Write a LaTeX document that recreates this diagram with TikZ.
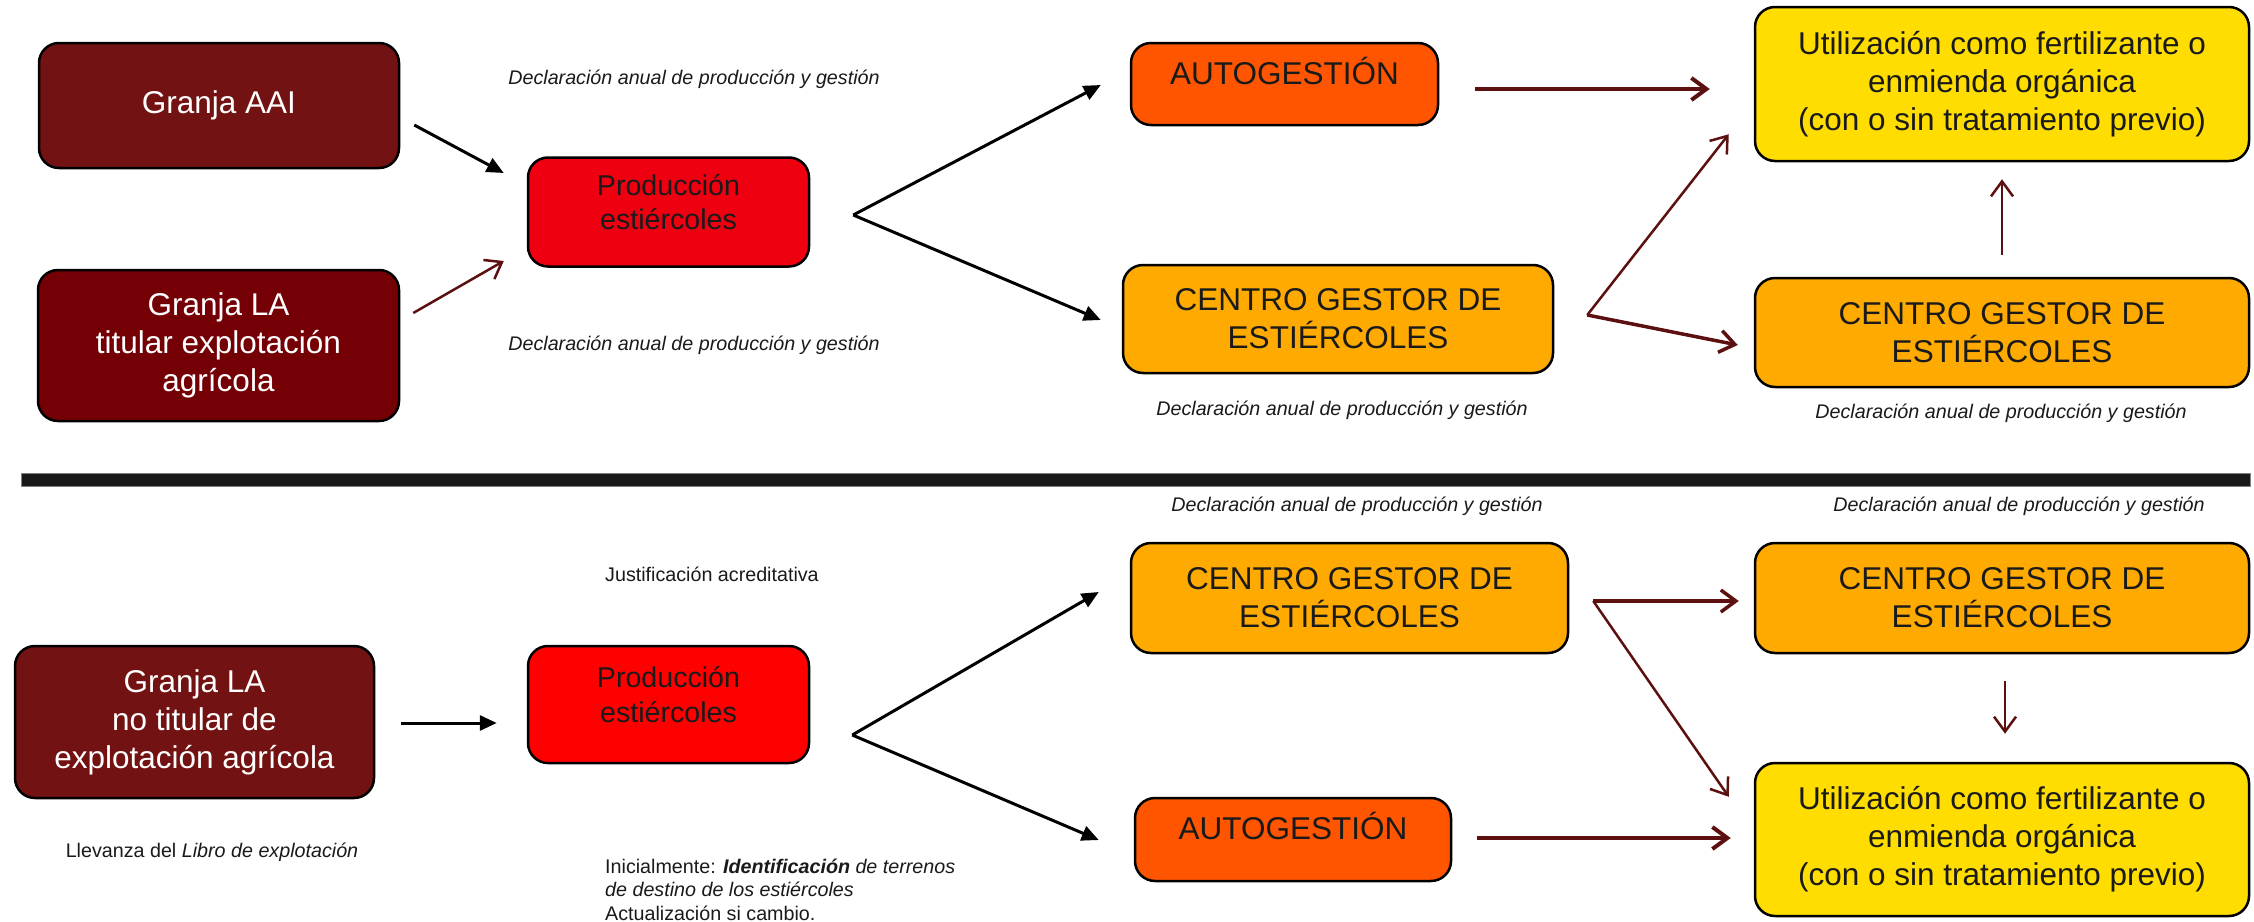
\documentclass[tikz,border=0pt]{standalone}
\usepackage{fontspec}
\setmainfont{Liberation Sans}
\usetikzlibrary{arrows.meta}
\definecolor{farm}{HTML}{731212}
\definecolor{farmb}{HTML}{740006}
\definecolor{prodA}{HTML}{EE0010}
\definecolor{prodB}{HTML}{FF0000}
\definecolor{autoc}{HTML}{FF5500}
\definecolor{cgc}{HTML}{FFAA00}
\definecolor{utilc}{HTML}{FFDD00}
\definecolor{arr}{HTML}{5C1010}
\definecolor{ink}{HTML}{1A1A1A}
\newcommand\bigf{\fontsize{31.5}{38}\selectfont}
\newcommand\midf{\fontsize{28.6}{34.5}\selectfont}
\newcommand\smf{\fontsize{19.7}{23.6}\selectfont}
\newcommand\lift[1]{\raisebox{0pt}[0pt][0pt]{#1}}
\begin{document}
\begin{tikzpicture}[x=1pt,y=-1pt,
  box/.style={draw=black, line width=2.5pt, rounded corners=20pt, inner sep=0pt, align=center, font=\bigf, text=ink},
  lbl/.style={font=\smf\itshape, text=ink, inner sep=0pt},
  txt/.style={font=\smf, text=ink, inner sep=0pt},
  blk/.style={-{Triangle[length=17pt,width=15pt]}, line width=3pt, black},
  rarr/.style={-{Straight Barb[length=15pt,width=22pt]}, line width=2.5pt, arr},
  rarrt/.style={rarr, line width=4pt}
]
\useasboundingbox (0,0) rectangle (2254,921);
\fill[white] (0,0) rectangle (2254,921);

% ---------- top section ----------
\node[box, fill=farm, text=white, minimum width=360pt, minimum height=125pt] (gaai) at (219,105.5) {Granja AAI};
\node[box, fill=farmb, text=white, minimum width=361pt, minimum height=151pt] (glat) at (218.5,345.5) {Granja LA\\titular explotación\\agrícola};
\node[box, fill=prodA, font=\midf, minimum width=281pt, minimum height=109pt] (p1) at (668.5,212) {\lift{\begin{tabular}{@{}c@{}}Producción\\estiércoles\end{tabular}}};
\node[box, fill=autoc, minimum width=307pt, minimum height=82pt] (auto1) at (1284.5,84) {\lift{AUTOGESTIÓN}};
\node[box, fill=cgc, minimum width=430pt, minimum height=108pt] (cg1) at (1338,319) {CENTRO GESTOR DE\\ESTIÉRCOLES};
\node[box, fill=utilc, minimum width=494pt, minimum height=154pt] (util1) at (2002,84) {Utilización como fertilizante o\\enmienda orgánica\\(con o sin tratamiento previo)};
\node[box, fill=cgc, minimum width=494pt, minimum height=109pt] (cg1r) at (2002,332.5) {CENTRO GESTOR DE\\ESTIÉRCOLES};

\node[lbl] (l1) at (694,79) {Declaración anual de producción y gestión};
\node[lbl] (l2) at (694,345) {Declaración anual de producción y gestión};
\node[lbl] (l3) at (1342,410) {Declaración anual de producción y gestión};
\node[lbl] (l4) at (2001,413) {Declaración anual de producción y gestión};

\coordinate (v1) at ([shift={(43,3)}]p1.east);
\coordinate (v2) at ([shift={(33,-4)}]cg1.east);
\draw[blk] ([shift={(14,19.5)}]gaai.east) -- ([shift={(-23,-39)}]p1.west);
\draw[rarr] ([shift={(13,-32.5)}]glat.east) -- ([shift={(-23,49)}]p1.west);
\draw[blk] (v1) -- ([shift={(-29,1)}]auto1.west);
\draw[blk] (v1) -- ([shift={(-21,1)}]cg1.west);
\draw[rarrt] ([shift={(36,5)}]auto1.east) -- ([shift={(-44,5)}]util1.west);
\draw[rarr] (v2) -- ([shift={(-25,-28)}]util1.south west);
\draw[rarr, line width=3.5pt] (v2) -- ([shift={(-16,12.5)}]cg1r.west);
\draw[rarr] ([shift={(0,-22)}]cg1r.north) -- ([shift={(0,17)}]util1.south);

% ---------- separator ----------
\draw[draw=black!50, fill=black!90, line width=0.8pt] (21,473) rectangle (2250,486);

% ---------- bottom section ----------
\node[box, fill=farm, text=white, minimum width=359pt, minimum height=152pt] (glb) at (194.5,722) {Granja LA\\no titular de\\explotación agrícola};
\node[box, fill=prodB, font=\midf, minimum width=281pt, minimum height=117pt] (p2) at (668.5,704.5) {\lift{\begin{tabular}{@{}c@{}}Producción\\estiércoles\end{tabular}}};
\node[box, fill=cgc, minimum width=437pt, minimum height=110pt] (cg2) at (1349.5,598) {CENTRO GESTOR DE\\ESTIÉRCOLES};
\node[box, fill=autoc, minimum width=316pt, minimum height=83pt] (auto2) at (1293,839.5) {\lift{AUTOGESTIÓN}};
\node[box, fill=cgc, minimum width=494pt, minimum height=110pt] (cg2r) at (2002,598) {CENTRO GESTOR DE\\ESTIÉRCOLES};
\node[box, fill=utilc, minimum width=494pt, minimum height=153pt] (util2) at (2002,839.5) {Utilización como fertilizante o\\enmienda orgánica\\(con o sin tratamiento previo)};

\node[lbl] (l5) at (1357,506) {Declaración anual de producción y gestión};
\node[lbl] (l6) at (2019,506) {Declaración anual de producción y gestión};
\node[txt, anchor=west] (just) at (605,574) {Justificación acreditativa};
\node[txt] (llev) at (212,852) {Llevanza del \textit{Libro de explotación}};
\node[txt, anchor=west, align=left] (ini) at (605,889.5) {Inicialmente: \textbf{\textit{Identificación}} \textit{de terrenos}\\\textit{de destino de los estiércoles}\\Actualización si cambio.};

\coordinate (v3) at ([shift={(42,30.5)}]p2.east);
\coordinate (v4) at ([shift={(24,3)}]cg2.east);
\draw[blk] ([shift={(26,1)}]glb.east) -- ([shift={(-30,18.5)}]p2.west);
\draw[blk] (v3) -- ([shift={(-31,-6)}]cg2.west);
\draw[blk] (v3) -- ([shift={(-35,0.5)}]auto2.west);
\draw[rarr, line width=3.5pt] (v4) -- ([shift={(-15,3)}]cg2r.west);
\draw[rarr] (v4) -- ([shift={(-25,35)}]util2.north west);
\draw[rarrt] ([shift={(25,-1.5)}]auto2.east) -- ([shift={(-23,-1.5)}]util2.west);
\draw[rarr] ([shift={(3,27)}]cg2r.south) -- ([shift={(3,-28)}]util2.north);
\end{tikzpicture}
\end{document}
